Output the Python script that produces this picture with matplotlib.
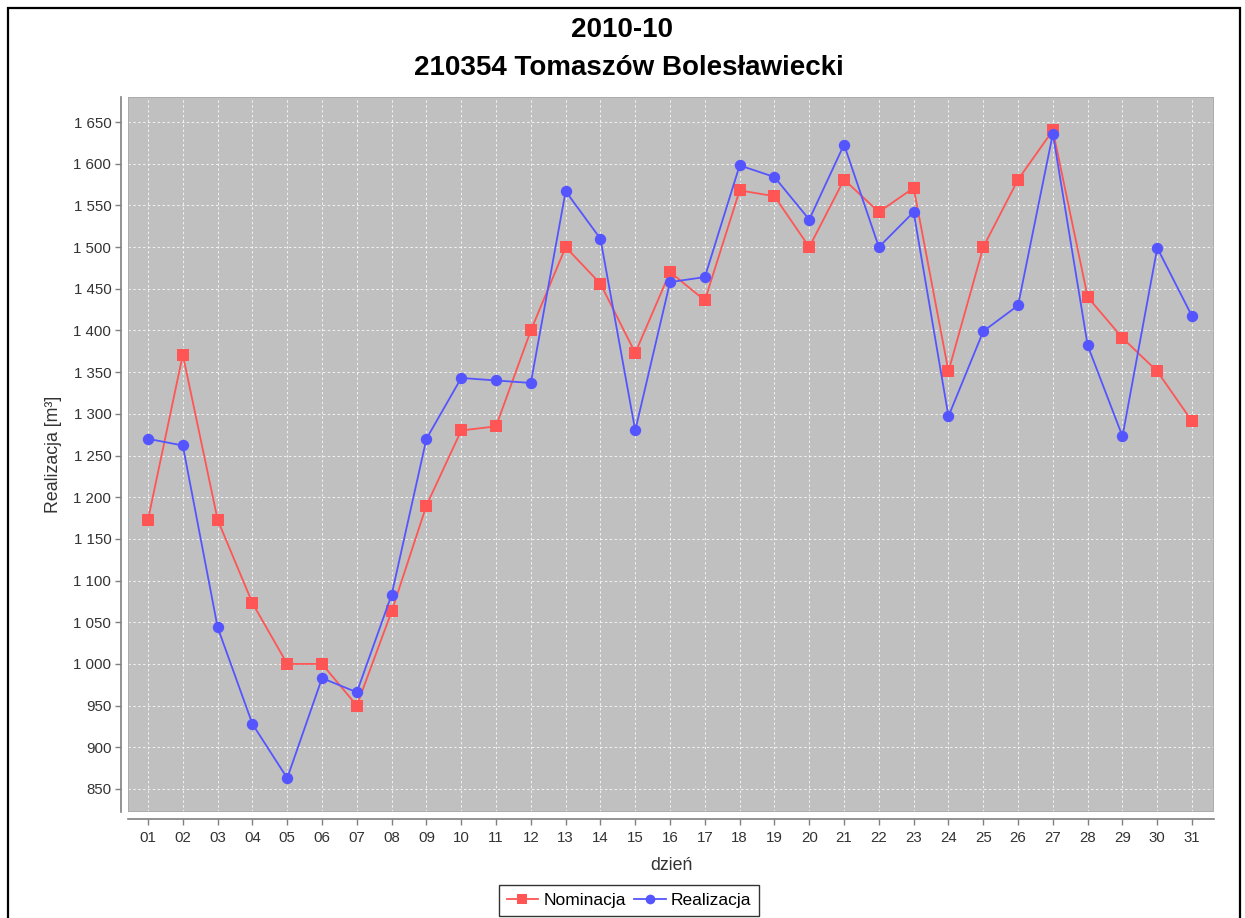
import matplotlib
matplotlib.use("Agg")
import matplotlib.pyplot as plt
from matplotlib.patches import Rectangle
from matplotlib.ticker import FuncFormatter, FixedLocator

plt.rcParams['font.family'] = ['Liberation Sans', 'DejaVu Sans']

days = [f"{d:02d}" for d in range(1, 32)]
nominacja = [1173, 1371, 1173, 1073, 1000, 1000, 950, 1063, 1190, 1280,
             1285, 1400, 1500, 1456, 1373, 1470, 1436, 1568, 1561, 1500,
             1581, 1542, 1571, 1351, 1500, 1581, 1640, 1440, 1391, 1351, 1291]
realizacja = [1270, 1262, 1044, 928, 863, 983, 966, 1083, 1270, 1343,
              1340, 1337, 1567, 1510, 1280, 1458, 1464, 1598, 1584, 1533,
              1623, 1500, 1542, 1297, 1399, 1430, 1636, 1382, 1273, 1499, 1417]
y_ticks = list(range(850, 1651, 50))

W, H = 1245, 918
fig = plt.figure(figsize=(W / 100, H / 100), dpi=100)
fig.patch.set_facecolor('white')

# outer frame
fig.add_artist(Rectangle((8 / W, -0.01), (1240 - 8) / W, 1.01 - 8 / H,
                         transform=fig.transFigure, fill=False,
                         edgecolor='black', linewidth=1.6))

left, right, top, bottom = 128, 1214, 97, 812
ax = fig.add_axes([left / W, 1 - bottom / H, (right - left) / W, (bottom - top) / H])
ax.set_facecolor('#c0c0c0')

x = list(range(len(days)))
ax.plot(x, nominacja, color='#ff5555', linewidth=1.3, marker='s',
        markersize=8.5, markeredgewidth=0, label='Nominacja', zorder=3)
ax.plot(x, realizacja, color='#5555ff', linewidth=1.3, marker='o',
        markersize=8.2, markeredgewidth=0, label='Realizacja', zorder=3)

ax.set_xlim(-0.575, 30.63)
ax.set_ylim(822.4, 1680)
ax.xaxis.set_major_locator(FixedLocator(x))
ax.set_xticklabels(days)
ax.yaxis.set_major_locator(FixedLocator(y_ticks))
ax.yaxis.set_major_formatter(FuncFormatter(lambda v, p: f"{int(v):,}".replace(',', ' ')))

ax.grid(True, color='white', linestyle=(0, (2.5, 2.5)), linewidth=0.7, alpha=0.8)
ax.set_axisbelow(True)

for s in ('top', 'right'):
    ax.spines[s].set_visible(False)
ax.spines['left'].set_position(('outward', 5))
ax.spines['bottom'].set_position(('outward', 5))
for s in ('left', 'bottom'):
    ax.spines[s].set_color('#808080')
    ax.spines[s].set_linewidth(1.2)
ax.add_patch(Rectangle((0, 0), 1, 1, transform=ax.transAxes, fill=False,
                       edgecolor='#a8a8a8', linewidth=1.2, zorder=4))

ax.tick_params(axis='both', colors='#808080', length=4, width=1, labelsize=10.8,
               labelcolor='#333333')
ax.tick_params(axis='y', pad=3)
ax.tick_params(axis='x', pad=5)

ax.set_xlabel('dzień', fontsize=12.8, color='#333333', labelpad=8)
ax.set_ylabel('Realizacja [m³]', fontsize=12.8, color='#333333', labelpad=8)

fig.text(622 / W, 1 - 30 / H, '2010-10', ha='center', va='center',
         fontsize=20, fontweight='bold')
fig.text(629 / W, 1 - 68 / H, '210354 Tomaszów Bolesławiecki', ha='center',
         va='center', fontsize=20, fontweight='bold')

leg = fig.legend(loc='lower center', bbox_to_anchor=(629 / W, 2 / H), ncol=2,
                 frameon=True, fancybox=False, edgecolor='black', fontsize=12.5,
                 handlelength=1.8, handletextpad=0.3, columnspacing=0.5,
                 borderpad=0.45, borderaxespad=0)
leg.get_frame().set_linewidth(1.0)
for h in leg.legend_handles:
    h.set_markersize(7)

fig.savefig('out.png', dpi=100)
